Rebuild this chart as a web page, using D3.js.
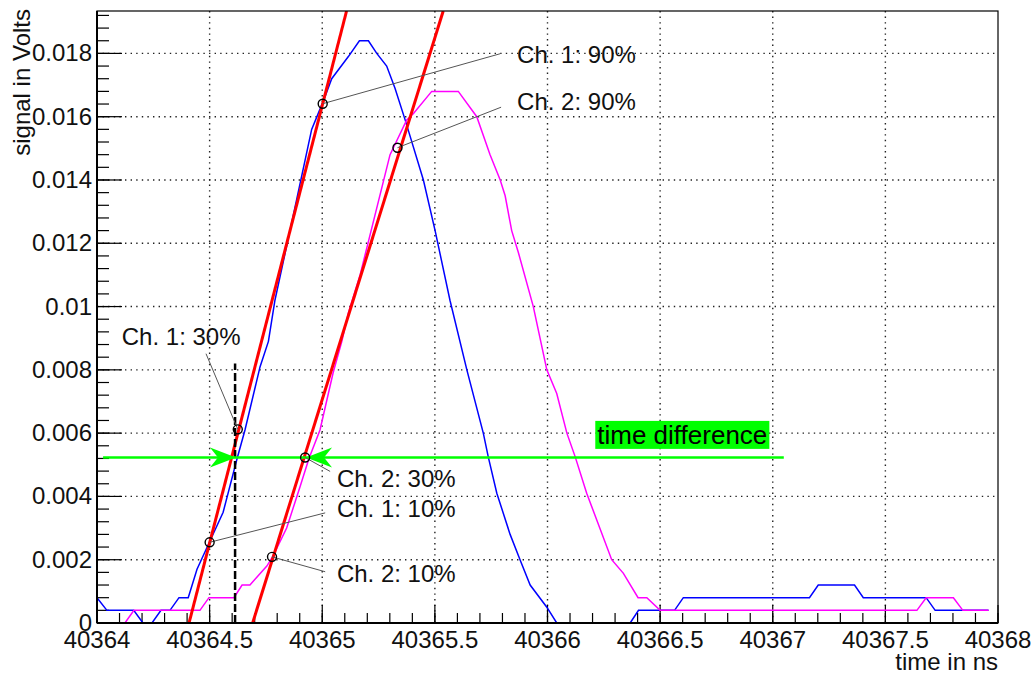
<!DOCTYPE html>
<html>
<head>
<meta charset="utf-8">
<script src="https://cdn.jsdelivr.net/npm/d3@7"></script>
<style>
  body { margin: 0; background: #fff; }
  text { font-family: "Liberation Sans", Arial, Helvetica, sans-serif; }
</style>
</head>
<body>
<script>
// tick values and labels
var xTicks = [40364, 40364.5, 40365, 40365.5, 40366, 40366.5, 40367, 40367.5, 40368];
var xTickLabels = ["40364", "40364.5", "40365", "40365.5", "40366", "40366.5", "40367", "40367.5", "40368"];
var yTicks = [0, 0.002, 0.004, 0.006, 0.008, 0.01, 0.012, 0.014, 0.016, 0.018];
var yTickLabels = ["0", "0.002", "0.004", "0.006", "0.008", "0.01", "0.012", "0.014", "0.016", "0.018"];

// channel 1 (blue) waveform vertices
var ch1Time = [40364.000, 40364.044, 40364.163, 40364.204, 40364.244, 40364.284, 40364.324, 40364.364, 40364.405,
  40364.444, 40364.502, 40364.560, 40364.622, 40364.657, 40364.724, 40364.761, 40364.790, 40364.887, 40364.953,
  40365.005, 40365.042, 40365.116, 40365.165, 40365.205, 40365.242, 40365.286, 40365.323, 40365.368, 40365.449,
  40365.501, 40365.567, 40365.642, 40365.715, 40365.737, 40365.775, 40365.834, 40365.878, 40365.923, 40365.997,
  40366.041, 40366.367, 40366.404, 40366.564, 40366.603, 40367.163, 40367.202, 40367.363, 40367.402, 40367.681,
  40367.721, 40367.958];
var ch1Volt = [0.0008, 0.0004, 0.0004, 0, 0, 0.0004, 0.0004, 0.0008, 0.0008,
  0.0017, 0.0026, 0.0035, 0.0052, 0.0061, 0.0081, 0.0089, 0.0102, 0.0134, 0.0156,
  0.0165, 0.0172, 0.0179, 0.0184, 0.0184, 0.0180, 0.0176, 0.0169, 0.0159, 0.0140,
  0.0124, 0.0102, 0.0080, 0.0060, 0.00525, 0.0041, 0.0028, 0.0020, 0.0012, 0.0005,
  0, 0, 0.0004, 0.0004, 0.0008, 0.0008, 0.0012, 0.0012, 0.0008, 0.0008,
  0.0004, 0.0004];

// channel 2 (magenta) waveform vertices
var ch2Time = [40364.000, 40364.124, 40364.164, 40364.457, 40364.497, 40364.608, 40364.644, 40364.679, 40364.754,
  40364.780, 40364.842, 40364.901, 40364.941, 40364.990, 40365.048, 40365.087, 40365.116, 40365.168, 40365.301,
  40365.375, 40365.405, 40365.486, 40365.604, 40365.686, 40365.745, 40365.790, 40365.812, 40365.841, 40365.871,
  40365.937, 40365.997, 40366.041, 40366.086, 40366.123, 40366.174, 40366.285, 40366.337, 40366.402, 40366.441,
  40366.500, 40367.640, 40367.681, 40367.802, 40367.844, 40367.958];
var ch2Volt = [0, 0, 0.0004, 0.0004, 0.0008, 0.0008, 0.0012, 0.0012, 0.0018,
  0.0021, 0.0030, 0.0043, 0.0052, 0.0061, 0.0079, 0.0089, 0.0098, 0.0110, 0.0148,
  0.0159, 0.0161, 0.0168, 0.0168, 0.0160, 0.0148, 0.0140, 0.0135, 0.0124, 0.0117,
  0.0100, 0.0080, 0.00725, 0.0060, 0.00525, 0.0041, 0.0020, 0.00157, 0.0008, 0.0008,
  0.0004, 0.0004, 0.0008, 0.0008, 0.0004, 0.0004];

// linear fits of the rising edges (two points each, time / volt)
var fitTime = [[40364.4085, 40365.108], [40364.691, 40365.537]];
var fitVolt = [[0, 0.01934], [0, 0.01934]];

// threshold points and their labels
var markLabels = ["Ch. 1: 90%", "Ch. 2: 90%", "Ch. 1: 30%", "Ch. 2: 30%", "Ch. 1: 10%", "Ch. 2: 10%"];
var markTime = [40365.002, 40365.334, 40364.625, 40364.924, 40364.500, 40364.777];
var markVolt = [0.01641, 0.01502, 0.00612, 0.00523, 0.00255, 0.00209];
// where each label's leader line ends (time / volt)
var leaderTime = [40365.790, 40365.794, 40364.484, 40365.035, 40365.013, 40365.013];
var leaderVolt = [0.01799, 0.01630, 0.00851, 0.00479, 0.00348, 0.00162];
var labelTime = [40365.865, 40365.865, 40364.110, 40365.065, 40365.065, 40365.065];
var labelVolt = [0.01771, 0.01620, 0.00877, 0.00430, 0.00335, 0.00130];

// time difference marker
var diffVolt = 0.00523;
var diffLine = [40364.027, 40367.049];
var diffArrows = [40364.617, 40364.928];
var cutTime = 40364.613, cutTop = 0.0082;
var diffText = "time difference";
var diffTextPos = [40366.221, 0.00566];

var W = 1035, H = 680;
var mLeft = 97, mRight = 998, mTop = 11, mBottom = 623;
var fs = 24;

var x = d3.scaleLinear().domain([40364, 40368]).range([mLeft, mRight]);
var y = d3.scaleLinear().domain([0, 0.01934]).range([mBottom, mTop]);

var svg = d3.select("body").append("svg")
    .attr("width", W).attr("height", H);

svg.append("clipPath").attr("id", "frame")
  .append("rect").attr("x", mLeft).attr("y", mTop)
  .attr("width", mRight - mLeft).attr("height", mBottom - mTop);

// grid
var grid = svg.append("g");
xTicks.slice(1, -1).forEach(function(t) {
  grid.append("line").attr("x1", x(t)).attr("x2", x(t)).attr("y1", mTop).attr("y2", mBottom)
    .attr("stroke", "#222").attr("stroke-width", 1.4).attr("stroke-dasharray", "1.4,4.2");
});
yTicks.slice(1).forEach(function(v) {
  grid.append("line").attr("x1", mLeft).attr("x2", mRight).attr("y1", y(v)).attr("y2", y(v))
    .attr("stroke", "#222").attr("stroke-width", 1.4).attr("stroke-dasharray", "1.4,4.2");
});

// axes with ROOT style inner ticks
var xMinor = d3.range(40364, 40368.001, 0.1);
var yMinor = d3.range(0, 0.0193, 0.0004);
var axes = svg.append("g");
xMinor.forEach(function(t) {
  axes.append("line").attr("x1", x(t)).attr("x2", x(t)).attr("y1", mBottom).attr("y2", mBottom - 10)
    .attr("stroke", "#000").attr("stroke-width", 1.2);
});
xTicks.forEach(function(t) {
  axes.append("line").attr("x1", x(t)).attr("x2", x(t)).attr("y1", mBottom).attr("y2", mBottom - 18)
    .attr("stroke", "#000").attr("stroke-width", 1.2);
});
yMinor.forEach(function(v) {
  axes.append("line").attr("x1", mLeft).attr("x2", mLeft + 12).attr("y1", y(v)).attr("y2", y(v))
    .attr("stroke", "#000").attr("stroke-width", 1.2);
});
yTicks.forEach(function(v) {
  axes.append("line").attr("x1", mLeft).attr("x2", mLeft + 25).attr("y1", y(v)).attr("y2", y(v))
    .attr("stroke", "#000").attr("stroke-width", 1.2);
});

axes.selectAll(".xl").data(xTicks).enter().append("text")
  .attr("x", function(d) { return x(d); }).attr("y", mBottom + 25)
  .attr("text-anchor", "middle").attr("font-size", fs).attr("fill", "#111")
  .text(function(d, i) { return xTickLabels[i]; });
axes.selectAll(".yl").data(yTicks).enter().append("text")
  .attr("x", mLeft - 5).attr("y", function(d) { return y(d) + 8; })
  .attr("text-anchor", "end").attr("font-size", fs).attr("fill", "#111")
  .text(function(d, i) { return yTickLabels[i]; });

svg.append("text").attr("x", mRight).attr("y", 670).attr("text-anchor", "end")
  .attr("font-size", fs).attr("fill", "#111").text("time in ns");
svg.append("text").attr("transform", "translate(30,9) rotate(-90)")
  .attr("text-anchor", "end").attr("font-size", fs).attr("fill", "#111").text("signal in Volts");

// curves
var plot = svg.append("g").attr("clip-path", "url(#frame)");
var line = d3.line().x(function(d) { return x(d[0]); }).y(function(d) { return y(d[1]); });

plot.append("path").attr("d", line(d3.zip(ch1Time, ch1Volt)))
  .attr("fill", "none").attr("stroke", "#0000ff").attr("stroke-width", 1.5);
plot.append("path").attr("d", line(d3.zip(ch2Time, ch2Volt)))
  .attr("fill", "none").attr("stroke", "#ff00ff").attr("stroke-width", 1.5);

fitTime.forEach(function(ts, i) {
  plot.append("path").attr("d", line(d3.zip(ts, fitVolt[i])))
    .attr("fill", "none").attr("stroke", "#ff0000").attr("stroke-width", 3);
});

// time difference line, cut line and arrows
plot.append("line").attr("x1", x(cutTime)).attr("x2", x(cutTime)).attr("y1", y(0)).attr("y2", y(cutTop))
  .attr("stroke", "#000").attr("stroke-width", 2.5).attr("stroke-dasharray", "8,3");
plot.append("line").attr("x1", x(diffLine[0])).attr("x2", x(diffLine[1]))
  .attr("y1", y(diffVolt)).attr("y2", y(diffVolt))
  .attr("stroke", "#00ff00").attr("stroke-width", 2.5);
diffArrows.forEach(function(t, i) {
  var dir = i === 0 ? -1 : 1, tx = x(t), ty = y(diffVolt);
  plot.append("path")
    .attr("d", "M" + tx + "," + ty + "L" + (tx + dir * 26) + "," + (ty - 10) +
      "L" + (tx + dir * 18) + "," + ty + "L" + (tx + dir * 26) + "," + (ty + 10) + "Z")
    .attr("fill", "#00ff00");
});

// threshold markers and labels
markTime.forEach(function(t, i) {
  svg.append("line").attr("x1", x(t)).attr("y1", y(markVolt[i]))
    .attr("x2", x(leaderTime[i])).attr("y2", y(leaderVolt[i]))
    .attr("stroke", "#555").attr("stroke-width", 1);
  svg.append("circle").attr("cx", x(t)).attr("cy", y(markVolt[i])).attr("r", 4.5)
    .attr("fill", "none").attr("stroke", "#000").attr("stroke-width", 1.4);
  svg.append("text").attr("x", x(labelTime[i])).attr("y", y(labelVolt[i]))
    .attr("font-size", fs).attr("fill", "#111").text(markLabels[i]);
});

var tdx = x(diffTextPos[0]), tdy = y(diffTextPos[1]);
var tdText = svg.append("text").attr("x", tdx).attr("y", tdy)
  .attr("font-size", 26).attr("fill", "#000").text(diffText);
var bb = tdText.node().getBBox();
svg.insert("rect", function() { return tdText.node(); })
  .attr("x", bb.x - 2).attr("y", bb.y + 1).attr("width", bb.width + 4).attr("height", bb.height - 2)
  .attr("fill", "#00ff00");

// frame
svg.append("rect").attr("x", mLeft).attr("y", mTop).attr("width", mRight - mLeft).attr("height", mBottom - mTop)
  .attr("fill", "none").attr("stroke", "#000").attr("stroke-width", 1.2);
svg.append("line").attr("x1", mLeft).attr("x2", mLeft).attr("y1", mTop).attr("y2", mBottom)
  .attr("stroke", "#000").attr("stroke-width", 2);
svg.append("line").attr("x1", mLeft).attr("x2", mRight).attr("y1", mBottom).attr("y2", mBottom)
  .attr("stroke", "#000").attr("stroke-width", 2);
</script>
</body>
</html>
